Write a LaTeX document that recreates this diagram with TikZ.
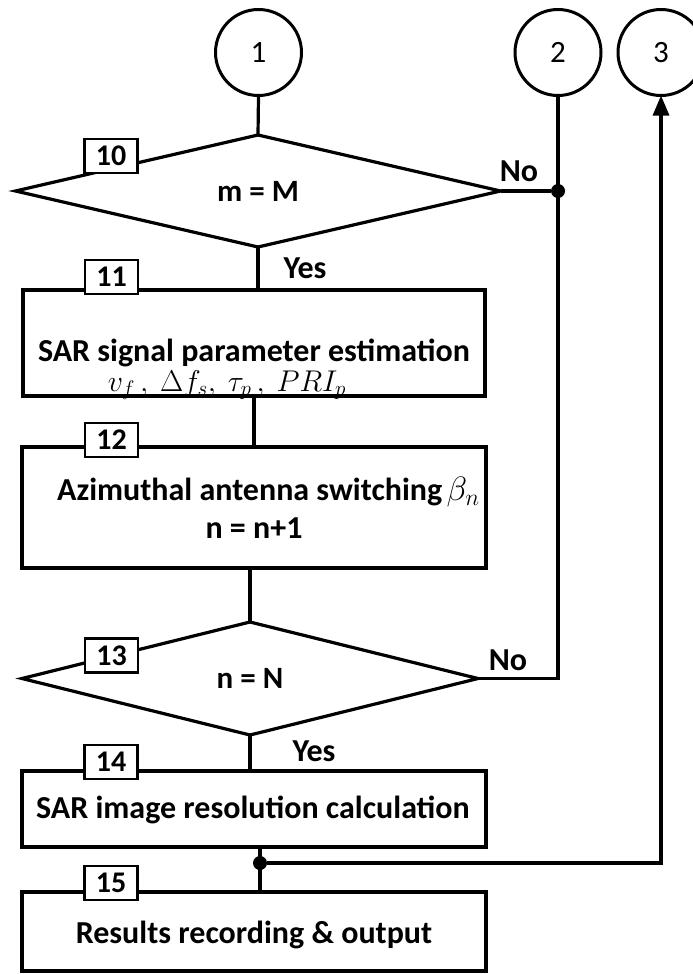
\RequirePackage{fix-cm}
\documentclass[tikz,border=0pt]{standalone}
\usepackage{fontspec}
\setmainfont{Carlito}
\usetikzlibrary{shapes.geometric,arrows.meta}

\begin{document}
\begin{tikzpicture}[x=1pt,y=-1pt,
  txt/.style={font=\fontsize{32}{36}\selectfont\bfseries, inner sep=0pt},
  procbox/.style={draw, rectangle, line width=3.2pt, inner sep=0pt, outer sep=0pt},
  decision/.style={draw, diamond, line width=3.2pt, inner sep=0pt, outer sep=0pt,
                   font=\fontsize{31}{35}\selectfont\bfseries},
  pageref/.style={draw, circle, minimum size=86pt, line width=3pt, inner sep=0pt,
                  outer sep=0pt, font=\fontsize{31}{35}\selectfont},
  tag/.style={draw, fill=white, rectangle, minimum width=53pt, minimum height=34pt,
              line width=2.8pt, inner sep=0pt, font=\fontsize{30}{33}\selectfont\bfseries},
  formula/.style={inner sep=0pt, font=\fontsize{25}{29}\selectfont},
  flow/.style={line width=3.2pt},
  junction/.style={circle, fill, minimum size=14pt, inner sep=0pt}
]
\useasboundingbox (0,0) rectangle (693,974);
\clip (0,0) rectangle (693,974);

% off-page connectors
\node[pageref] (c1) at (258.5,52.5) {1};
\node[pageref] (c2) at (558,52.5) {2};
\node[pageref] (c3) at (661,52.5) {3};

% decisions and process blocks
\node[decision, minimum width=485pt, minimum height=112pt] (d1) at (258,191) {m = M};
\node[procbox, minimum width=462pt, minimum height=106pt] (b11) at (254,343) {};
\node[procbox, minimum width=464pt, minimum height=121pt] (b12) at (254,507.5) {};
\node[decision, minimum width=456pt, minimum height=113pt] (d2) at (250,678.5) {n = N};
\node[procbox, minimum width=464pt, minimum height=76pt] (b14) at (254,809) {};
\node[procbox, minimum width=464pt, minimum height=79pt] (b15) at (254,931.5) {};

% block texts
\node[txt, anchor=base] (t11) at (254,361) {SAR signal parameter estimation};
\node[formula, anchor=base] (m11) at (227,391)
  {\scalebox{1.2}{$v_f\,,\ \Delta f_s,\ \tau_p\,,\ PRI_p$}};
\node[txt, anchor=base west] (t12) at (57,500) {Azimuthal antenna switching};
\node[formula, anchor=base west] (m12) at (t12.base east)
  {\,\scalebox{1.35}{$\beta_n$}};
\node[txt] (t12b) at (254,528) {n = n+1};
\node[txt] (t14) at (253,810) {SAR image resolution calculation};
\node[txt] (t15) at (254,935) {Results recording \& output};

% junctions
\node[junction] (j1) at (558,191) {};
\node[junction] (j2) at (260,863) {};

% connectors
\draw[flow] (c1.south) -- (d1.north);
\draw[flow] (d1.south) -- (d1.south |- b11.north);
\draw[flow] (b11.south) -- (b12.north);
\draw[flow] (d2.north |- b12.south) -- (d2.north);
\draw[flow] (d2.south) -- (d2.south |- b14.north);
\draw[flow] (j2 |- b14.south) -- (j2 |- b15.north);
\draw[flow] (d1.east) -- (j1);
\draw[flow] (c2.south) -- (c2.south |- d2.east) -- (d2.east);
\draw[flow, -{Triangle[length=20pt,width=16pt]}] (j2) -- (j2 -| c3.south) -- (c3.south);

% branch labels
\node[txt] (no1) at (519,171) {No};
\node[txt] (yes1) at (305,268) {Yes};
\node[txt] (no2) at (508,660) {No};
\node[txt] (yes2) at (314,751) {Yes};

% step number tags
\node[tag] (n10) at (111,156) {10};
\node[tag] (n11) at (111.5,277) {11};
\node[tag] (n12) at (111.5,440) {12};
\node[tag] (n13) at (111.5,655.5) {13};
\node[tag] (n14) at (111,762) {14};
\node[tag] (n15) at (111,883) {15};
\end{tikzpicture}
\end{document}
